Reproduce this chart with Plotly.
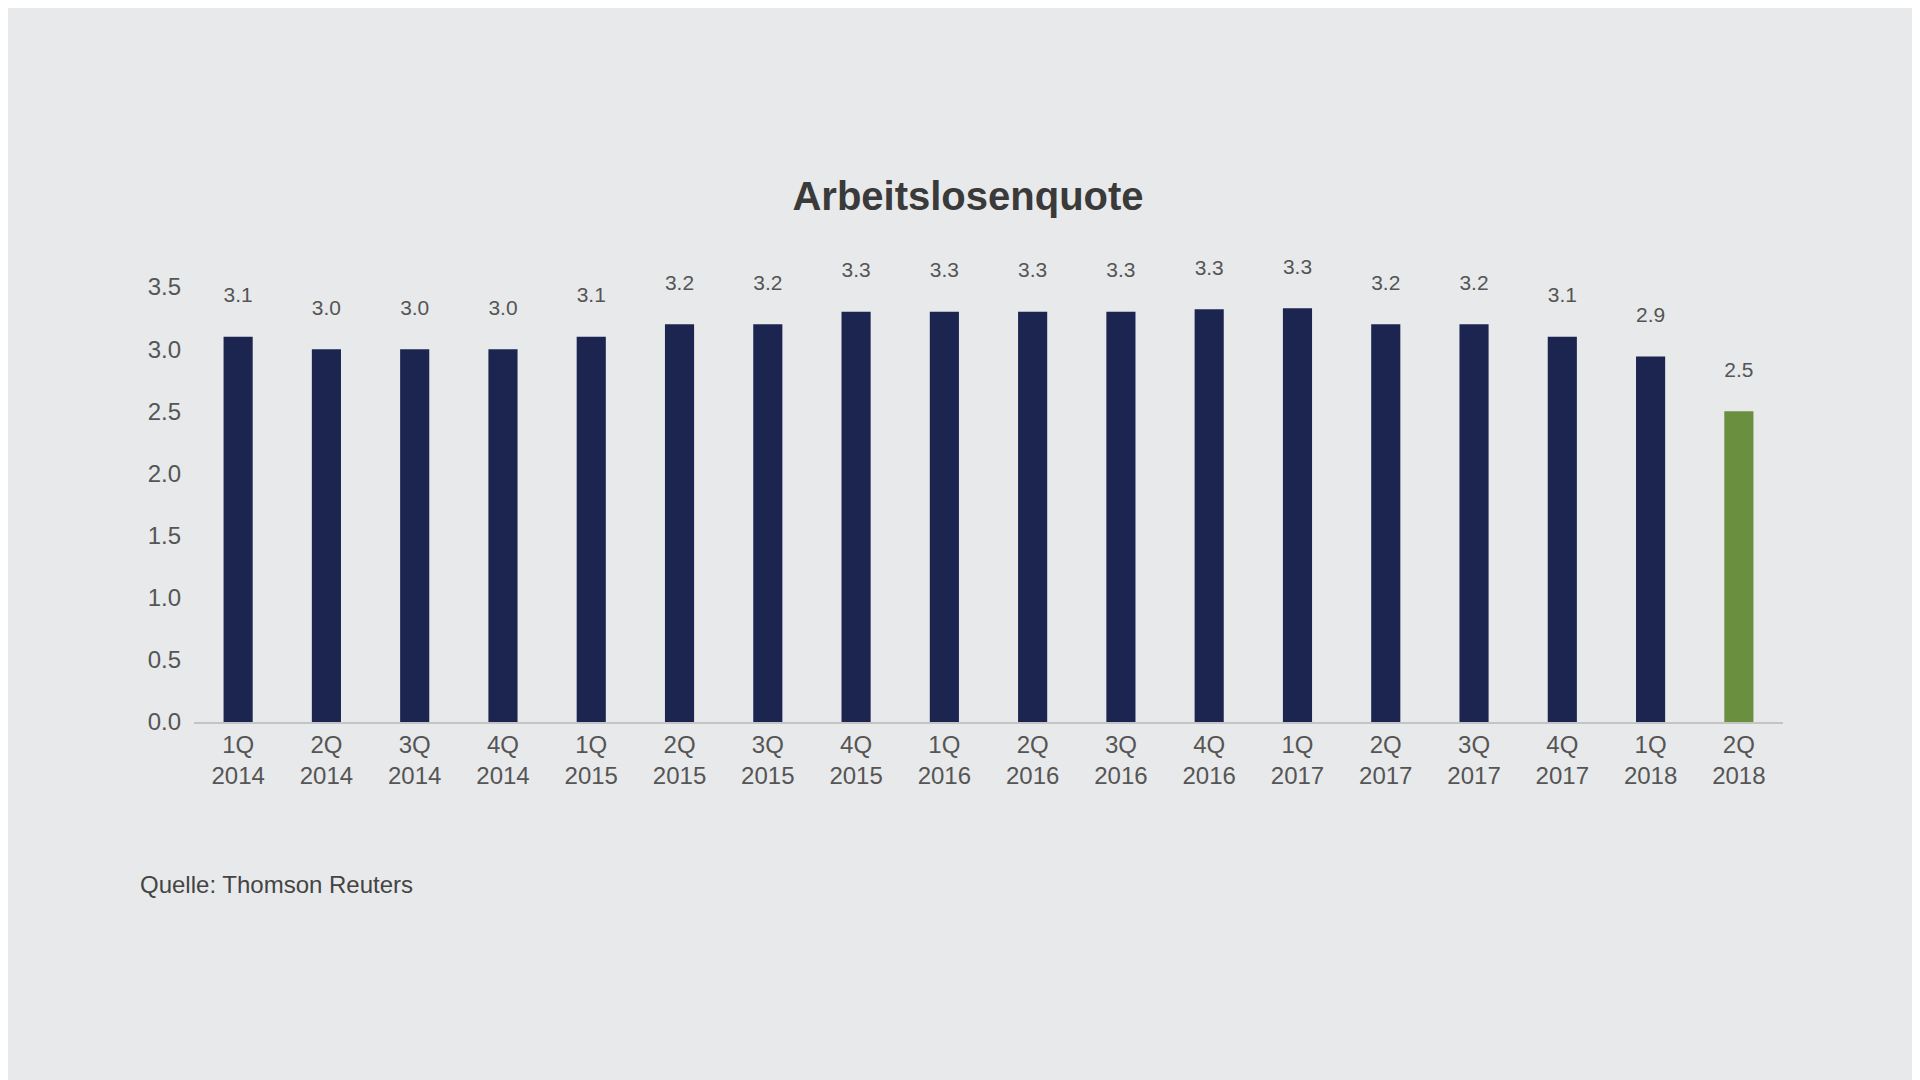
import plotly.graph_objects as go

categories = ["1Q<br>2014","2Q<br>2014","3Q<br>2014","4Q<br>2014","1Q<br>2015","2Q<br>2015","3Q<br>2015","4Q<br>2015",
              "1Q<br>2016","2Q<br>2016","3Q<br>2016","4Q<br>2016","1Q<br>2017","2Q<br>2017","3Q<br>2017","4Q<br>2017",
              "1Q<br>2018","2Q<br>2018"]
values = [3.1,3.0,3.0,3.0,3.1,3.2,3.2,3.3,3.3,3.3,3.3,3.32,3.33,3.2,3.2,3.1,2.94,2.5]
colors = ["#1c2550"]*17 + ["#6a8f3f"]

fig = go.Figure(go.Bar(x=categories, y=values, marker_color=colors, marker_line_width=0,
                       texttemplate="%{y:.1f}<br> ", textposition="outside", cliponaxis=False,
                       textfont=dict(size=25, color="#555555")))
fig.update_layout(
    width=1920, height=1080, paper_bgcolor="#e8e9ea", plot_bgcolor="#e8e9ea",
    margin=dict(l=186, r=145, t=279, b=366), bargap=0.67,
    font=dict(family="Liberation Sans, Arial", color="#555555"),
    title=dict(text="<b>Arbeitslosenquote</b>", x=0.5, xanchor="center", y=1-188/1080, yanchor="middle",
               font=dict(size=40, color="#3a3a3a")),
    showlegend=False,
)
fig.update_yaxes(range=[0,3.5], dtick=0.5, tickformat=".1f", showgrid=False, zeroline=False,
                 tickfont=dict(size=24, color="#555555"), ticklabelstandoff=12)
fig.update_xaxes(showline=True, linecolor="#c4c4c4", linewidth=2, tickfont=dict(size=24, color="#555555"))
fig.add_annotation(text="Quelle: Thomson Reuters", xref="paper", yref="paper", x=(130-186)/1589, y=-(876-714)/435,
                   xanchor="left", yanchor="middle", showarrow=False, font=dict(size=24, color="#444444"))
fig.write_html("out.html")
